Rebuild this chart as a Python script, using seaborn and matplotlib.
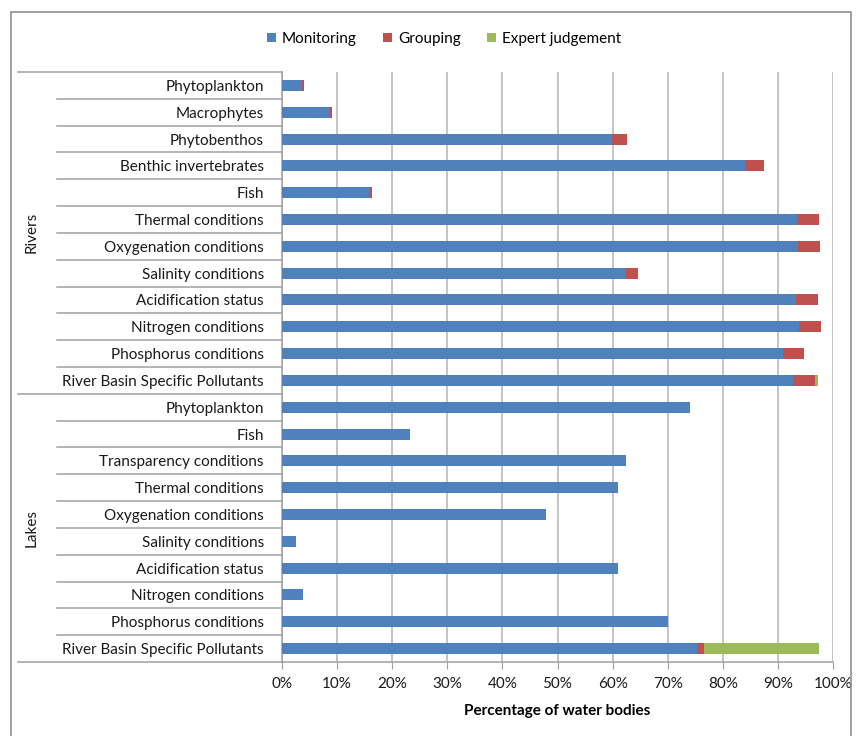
import pandas as pd
import numpy as np
import matplotlib
matplotlib.use('Agg')
import matplotlib.pyplot as plt
import matplotlib.transforms as mtransforms
from matplotlib.lines import Line2D
from matplotlib.patches import Patch, Rectangle
import seaborn as sns

# Datos (porcentaje de masas de agua)
rios_categorias = ['Phytoplankton', 'Macrophytes', 'Phytobenthos', 'Benthic invertebrates', 'Fish',
                   'Thermal conditions', 'Oxygenation conditions', 'Salinity conditions',
                   'Acidification status', 'Nitrogen conditions', 'Phosphorus conditions',
                   'River Basin Specific Pollutants']
rios_monitoring = [3.7, 8.8, 59.9, 84.0, 15.9, 93.4, 93.6, 62.4, 93.3, 93.9, 91.0, 92.8]
rios_grouping = [0.3, 0.3, 2.8, 3.4, 0.4, 4.0, 4.1, 2.3, 4.0, 4.0, 3.8, 4.0]
rios_expert = [0, 0, 0, 0, 0, 0, 0, 0, 0, 0, 0, 0.5]

lagos_categorias = ['Phytoplankton', 'Fish', 'Transparency conditions', 'Thermal conditions',
                    'Oxygenation conditions', 'Salinity conditions', 'Acidification status',
                    'Nitrogen conditions', 'Phosphorus conditions', 'River Basin Specific Pollutants']
lagos_monitoring = [74.0, 23.3, 62.4, 61.0, 48.0, 2.5, 61.0, 3.9, 70.1, 75.4]
lagos_grouping = [0, 0, 0, 0, 0, 0, 0, 0, 0, 1.1]
lagos_expert = [0, 0, 0, 0, 0, 0, 0, 0, 0, 20.9]

data = pd.DataFrame({
    'grupo': ['Rivers'] * len(rios_categorias) + ['Lakes'] * len(lagos_categorias),
    'categoria': rios_categorias + lagos_categorias,
    'Monitoring': rios_monitoring + lagos_monitoring,
    'Grouping': rios_grouping + lagos_grouping,
    'Expert judgement': rios_expert + lagos_expert,
})
data['fila'] = data['grupo'] + '|' + data['categoria']
data['m_g'] = data['Monitoring'] + data['Grouping']
data['total'] = data['m_g'] + data['Expert judgement']

azul, rojo, verde = '#4F81BD', '#C0504D', '#9BBB59'
gris = '#A0A0A0'

fig = plt.figure(figsize=(8.56, 7.36), dpi=100)
W, H = 856, 736
ax = fig.add_axes([282 / W, 1 - 662 / H, 551 / W, 590 / H])

orden = list(data['fila'])
# Barras apiladas: se dibuja el total y encima los acumulados parciales
for col, color in [('total', verde), ('m_g', rojo), ('Monitoring', azul)]:
    sns.barplot(data=data, x=col, y='fila', order=orden, color=color, width=0.41,
                saturation=1, ax=ax, zorder=3)

ax.set_xlim(0, 100)
ax.set_ylim(len(orden) - 0.5, -0.5)
ax.set_xticks(np.arange(0, 101, 10))
ax.set_xticklabels([f'{v}%' for v in range(0, 101, 10)])
ax.set_yticks(range(len(orden)))
ax.set_yticklabels(data['categoria'])
ax.tick_params(axis='y', length=0, pad=13, labelsize=11, labelcolor='#1a1a1a')
ax.tick_params(axis='x', length=5, direction='out', color=gris, labelsize=11,
               labelcolor='#1a1a1a', pad=6)
ax.set_ylabel('')
ax.set_xlabel('Percentage of water bodies', fontsize=11, fontweight='bold', labelpad=9)

ax.grid(axis='x', color='#B4B4B4', linewidth=1.1, zorder=0)
ax.grid(axis='y', visible=False)
ax.set_axisbelow(True)
for lado in ['top', 'right']:
    ax.spines[lado].set_visible(False)
for lado in ['left', 'bottom']:
    ax.spines[lado].set_color(gris)
    ax.spines[lado].set_linewidth(1.1)

# Lineas separadoras de las etiquetas de categoria
trans = mtransforms.blended_transform_factory(fig.transFigure, ax.transData)
n_rios = len(rios_categorias)
for i in range(len(orden) + 1):
    y = i - 0.5
    if i in (0, n_rios, len(orden)):
        x0 = 18 / W
    else:
        x0 = 57 / W
    fig.add_artist(Line2D([x0, 282 / W], [y, y], transform=trans, color=gris, linewidth=1.1))

# Etiquetas de grupo
fig.text(32 / W, 1 - 232 / H, 'Rivers', rotation=90, ha='center', va='center', fontsize=11,
         color='#1a1a1a')
fig.text(32 / W, 1 - 528 / H, 'Lakes', rotation=90, ha='center', va='center', fontsize=11,
         color='#1a1a1a')

# Leyenda
handles = [Patch(facecolor=azul), Patch(facecolor=rojo), Patch(facecolor=verde)]
fig.legend(handles, ['Monitoring', 'Grouping', 'Expert judgement'], loc='center',
           bbox_to_anchor=(444 / W, 1 - 39 / H), ncol=3, frameon=False, fontsize=11,
           handlelength=0.6, handleheight=0.6, handletextpad=0.4, columnspacing=1.7)

# Marco exterior
fig.add_artist(Rectangle((11 / W, -0.01), (851 - 11) / W, 1 - 12 / H + 0.01,
                         transform=fig.transFigure, fill=False, edgecolor='#868686',
                         linewidth=1.1))

plt.rcParams['font.family'] = ['Lato', 'DejaVu Sans']
for t in fig.findobj(matplotlib.text.Text):
    t.set_family(['Lato', 'DejaVu Sans'])

fig.savefig('out.png', dpi=100)
